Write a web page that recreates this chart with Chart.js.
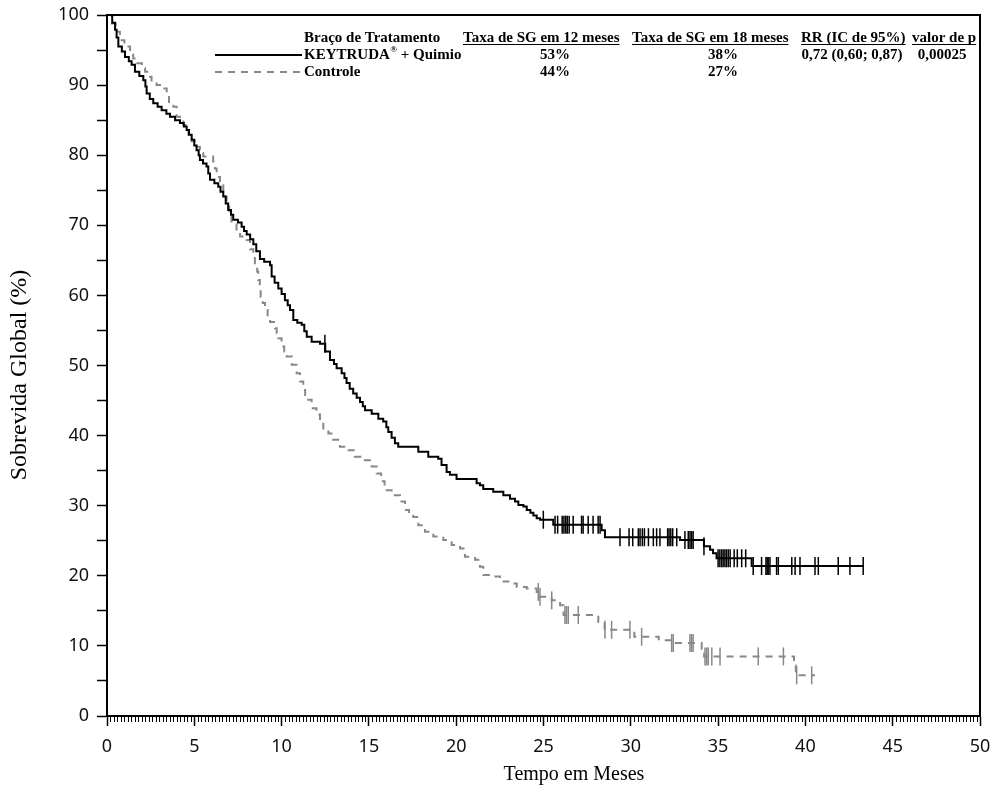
<!DOCTYPE html>
<html>
<head>
<meta charset="utf-8">
<script src="https://cdn.jsdelivr.net/npm/chart.js"></script>
<style>
html,body{margin:0;padding:0;background:#fff;}
#wrap{width:997px;height:789px;position:relative;}
</style>
</head>
<body>
<div id="wrap"><canvas id="c" width="997" height="789"></canvas></div>
<script>
// ---------------- DATA ----------------
const xTickValues = [0, 5, 10, 15, 20, 25, 30, 35, 40, 45, 50];
const yTickLabels = [0, 10, 20, 30, 40, 50, 60, 70, 80, 90, 100];

const keytrudaTime = [0, 0.3, 0.46, 0.55, 0.65, 0.85, 1.03, 1.25, 1.41, 1.6, 1.85, 2.08, 2.2, 2.27, 2.45, 2.65, 2.9, 3.13, 3.4, 3.61, 3.9, 4.18, 4.4, 4.56, 4.7, 4.85, 5.0, 5.13, 5.25, 5.32, 5.5, 5.7, 5.8, 5.9, 6.15, 6.37, 6.5, 6.66, 6.8, 6.94, 7.1, 7.23, 7.5, 7.71, 7.85, 8.0, 8.2, 8.38, 8.55, 8.76, 9.0, 9.34, 9.43, 9.6, 9.81, 10.0, 10.19, 10.35, 10.48, 10.67, 10.9, 11.15, 11.3, 11.44, 11.72, 12.2, 12.5, 12.77, 13.0, 13.15, 13.44, 13.6, 13.72, 13.9, 14.1, 14.3, 14.49, 14.65, 14.78, 15.16, 15.54, 15.82, 16.0, 16.11, 16.3, 16.49, 16.68, 17.83, 18.4, 18.97, 19.16, 19.45, 19.64, 20.02, 21.17, 21.36, 21.55, 22.12, 22.7, 23.08, 23.37, 23.56, 23.85, 24.04, 24.25, 24.42, 24.61, 24.8, 25.56, 28.33, 28.52, 32.82, 34.19, 34.54, 34.71, 34.91, 36.92, 43.31];
const keytrudaSurv = [100, 98.9, 97.9, 96.8, 95.5, 94.8, 94.0, 93.4, 92.9, 91.9, 91.3, 90.7, 89.8, 88.8, 88.0, 87.4, 86.9, 86.4, 85.9, 85.5, 85.0, 84.6, 84.1, 83.6, 82.9, 82.2, 81.4, 80.7, 80.0, 79.3, 78.8, 78.4, 77.4, 76.5, 76.0, 75.5, 74.8, 74.1, 73.1, 72.2, 71.5, 70.8, 70.4, 69.8, 69.2, 68.7, 68.0, 67.3, 66.3, 65.2, 64.8, 64.3, 62.7, 61.8, 61.0, 60.2, 59.3, 58.6, 57.9, 56.5, 56.1, 55.8, 54.9, 54.1, 53.4, 53.1, 52.0, 50.8, 50.2, 49.6, 48.9, 48.2, 47.5, 46.7, 46.0, 45.4, 44.8, 44.2, 43.6, 43.1, 42.4, 42.0, 41.2, 40.5, 39.7, 38.9, 38.4, 37.7, 37.0, 36.7, 35.8, 34.8, 34.4, 33.8, 33.2, 32.9, 32.4, 32.0, 31.5, 31.0, 30.6, 30.1, 29.9, 29.4, 29.0, 28.6, 28.2, 28.0, 27.3, 26.5, 25.5, 25.1, 24.2, 23.7, 23.2, 22.5, 21.4, 21.4];
const keytrudaCensorTime = [12.48, 24.99, 25.66, 25.81, 26.07, 26.17, 26.27, 26.36, 26.47, 26.7, 27.18, 27.27, 27.56, 27.84, 28.13, 28.24, 29.38, 29.9, 30.11, 30.43, 30.53, 30.66, 30.78, 31.01, 31.29, 31.48, 31.67, 32.11, 32.19, 32.29, 32.4, 32.63, 33.1, 33.29, 33.39, 33.48, 33.57, 34.19, 35.0, 35.1, 35.2, 35.29, 35.39, 35.48, 35.58, 35.69, 35.92, 36.1, 36.35, 36.58, 37.01, 37.49, 37.74, 37.81, 37.87, 37.97, 38.35, 38.45, 39.22, 39.41, 39.69, 40.55, 40.74, 41.88, 42.55, 43.31];

const controlTime = [0, 0.27, 0.5, 0.74, 1.0, 1.32, 1.5, 1.7, 2.0, 2.18, 2.46, 2.55, 2.84, 3.22, 3.42, 3.55, 3.8, 3.99, 4.18, 4.37, 4.5, 4.66, 4.85, 5.04, 5.32, 5.51, 6.08, 6.18, 6.28, 6.47, 6.66, 6.85, 7.0, 7.13, 7.42, 7.62, 8.0, 8.19, 8.38, 8.47, 8.6, 8.66, 8.75, 8.8, 8.92, 9.05, 9.2, 9.34, 9.62, 9.72, 9.81, 10.0, 10.15, 10.29, 10.58, 10.86, 11.05, 11.24, 11.35, 11.44, 11.72, 12.0, 12.1, 12.2, 12.39, 12.68, 12.96, 13.34, 13.72, 14.2, 14.68, 15.16, 15.44, 15.7, 15.9, 16.3, 16.78, 17.07, 17.3, 17.54, 17.83, 18.21, 18.69, 19.26, 19.74, 20.22, 20.5, 21.08, 21.36, 21.55, 22.12, 22.51, 22.99, 23.47, 24.04, 24.61, 24.8, 25.47, 25.95, 26.15, 28.14, 28.5, 30.2, 31.6, 32.3, 34.06, 34.2, 39.35, 39.45, 40.55];
const controlSurv = [100, 98.8, 97.6, 96.4, 95.5, 94.5, 93.8, 93.1, 92.4, 91.9, 91.2, 90.5, 90.0, 89.5, 88.3, 87.6, 86.9, 85.5, 84.8, 84.3, 83.6, 82.9, 82.0, 81.2, 80.3, 79.8, 79.1, 78.1, 76.9, 75.7, 74.1, 72.7, 71.5, 70.3, 69.1, 68.4, 67.9, 66.6, 65.5, 64.6, 63.4, 62.2, 61.0, 59.8, 58.9, 57.9, 57.0, 56.2, 55.3, 54.6, 53.9, 52.7, 52.0, 51.3, 50.1, 48.9, 47.7, 46.5, 45.8, 45.1, 43.9, 43.7, 43.0, 42.2, 41.0, 40.3, 39.4, 38.4, 37.9, 37.0, 36.5, 35.6, 34.6, 33.5, 32.2, 31.5, 30.6, 29.4, 28.9, 28.4, 27.2, 26.3, 25.6, 25.1, 24.4, 23.9, 22.7, 22.3, 21.3, 20.1, 19.9, 19.2, 18.9, 18.4, 18.2, 17.7, 17.0, 16.5, 15.8, 14.4, 13.4, 12.3, 11.3, 10.8, 10.4, 9.6, 8.5, 7.2, 5.8, 5.8];
const controlCensorTime = [24.7, 24.8, 25.47, 26.23, 26.32, 26.42, 26.99, 28.52, 28.9, 29.95, 30.62, 32.34, 32.43, 33.39, 33.48, 33.57, 34.25, 34.35, 34.44, 34.64, 35.11, 37.3, 38.74, 39.5, 40.36];

const seriesNames = ['KEYTRUDA\u00AE + Quimio', 'Controle'];
const tableHeaders = ['Bra\u00E7o de Tratamento', 'Taxa de SG em 12 meses', 'Taxa de SG em 18 meses', 'RR (IC de 95%)', 'valor de p'];
const rate12 = ['53%', '44%'];
const rate18 = ['38%', '27%'];
const hazardRatio = ['0,72 (0,60; 0,87)', ''];
const pValue = ['0,00025', ''];
const xTitle = 'Tempo em Meses';
const yTitle = 'Sobrevida Global (%)';

// ---------------- HELPERS ----------------
function toPoints(ts, ss) { return ts.map((t, i) => ({x: t, y: ss[i]})); }
function survAt(ts, ss, t) {
  let s = ss[0];
  for (let i = 0; i < ts.length; i++) { if (ts[i] <= t + 1e-9) s = ss[i]; }
  return s;
}
function censorPoints(cts, ts, ss) { return cts.map(t => ({x: t, y: survAt(ts, ss, t)})); }

const BLACK = '#000000';
const GRAY = '#888888';
const SERIF = '"Liberation Serif", "Times New Roman", serif';

// draws text, rendering "®" as a small superscript
function drawWithSup(ctx, text, x, y, size) {
  const parts = text.split('\u00AE');
  let cx = x;
  for (let i = 0; i < parts.length; i++) {
    ctx.font = 'bold ' + size + 'px ' + SERIF;
    ctx.fillText(parts[i], cx, y);
    cx += ctx.measureText(parts[i]).width;
    if (i < parts.length - 1) {
      ctx.font = 'bold ' + Math.round(size * 0.62) + 'px ' + SERIF;
      ctx.fillText('\u00AE', cx + 0.5, y - 5);
      cx += ctx.measureText('\u00AE').width + 0.5;
    }
  }
  ctx.font = 'bold ' + size + 'px ' + SERIF;
}

const decorPlugin = {
  id: 'decor',
  afterDraw(chart) {
    const ctx = chart.ctx;
    const ca = chart.chartArea;
    const xs = chart.scales.x;
    ctx.save();
    // frame top + right
    ctx.strokeStyle = BLACK; ctx.lineWidth = 2;
    ctx.beginPath();
    ctx.moveTo(ca.left, ca.top); ctx.lineTo(ca.right, ca.top); ctx.lineTo(ca.right, ca.bottom);
    ctx.stroke();
    // x minor ticks every 0.2
    ctx.lineWidth = 1;
    ctx.beginPath();
    for (let i = 0; i <= 250; i++) {
      if (i % 25 === 0) continue;
      const px = Math.round(xs.getPixelForValue(i / 5)) + 0.5;
      ctx.moveTo(px, ca.bottom); ctx.lineTo(px, ca.bottom + 6);
    }
    ctx.stroke();

    // axis titles
    ctx.fillStyle = BLACK;
    ctx.textAlign = 'center'; ctx.textBaseline = 'middle';
    ctx.font = '20px ' + SERIF;
    ctx.fillText(xTitle, 574, 775);
    ctx.save();
    ctx.translate(20, 375); ctx.rotate(-Math.PI / 2);
    ctx.font = '24px ' + SERIF;
    ctx.fillText(yTitle, 0, 0);
    ctx.restore();

    // legend table
    ctx.font = 'bold 15px ' + SERIF;
    ctx.textBaseline = 'middle';
    const hy = 38, r1 = 55, r2 = 72;
    ctx.textAlign = 'left';
    ctx.fillText(tableHeaders[0], 304, hy);
    const headX = [463, 632, 801, 912];
    ctx.lineWidth = 1;
    for (let i = 1; i < tableHeaders.length; i++) {
      const x0 = headX[i - 1];
      ctx.fillText(tableHeaders[i], x0, hy);
      const w = ctx.measureText(tableHeaders[i]).width;
      ctx.beginPath(); ctx.moveTo(x0, hy + 6.5); ctx.lineTo(x0 + w, hy + 6.5); ctx.stroke();
    }
    drawWithSup(ctx, seriesNames[0], 304, r1, 15);
    drawWithSup(ctx, seriesNames[1], 304, r2, 15);
    ctx.textAlign = 'center';
    ctx.fillText(rate12[0], 555, r1); ctx.fillText(rate12[1], 555, r2);
    ctx.fillText(rate18[0], 723, r1); ctx.fillText(rate18[1], 723, r2);
    ctx.fillText(hazardRatio[0], 852, r1);
    ctx.fillText(pValue[0], 942, r1);
    // sample lines
    ctx.lineWidth = 2; ctx.strokeStyle = BLACK;
    ctx.beginPath(); ctx.moveTo(215, r1); ctx.lineTo(302, r1); ctx.stroke();
    ctx.strokeStyle = GRAY; ctx.setLineDash([7, 6]);
    ctx.beginPath(); ctx.moveTo(215, r2); ctx.lineTo(302, r2); ctx.stroke();
    ctx.setLineDash([]);
    ctx.restore();
  }
};

const tickFont = {family: '"Noto Sans", "Open Sans", sans-serif', size: 18};

new Chart(document.getElementById('c'), {
  type: 'line',
  data: {
    datasets: [
      {label: seriesNames[0], data: toPoints(keytrudaTime, keytrudaSurv), borderColor: BLACK, borderWidth: 2, stepped: 'before', pointRadius: 0, fill: false},
      {label: seriesNames[1], data: toPoints(controlTime, controlSurv), borderColor: GRAY, borderWidth: 2, borderDash: [7, 6], stepped: 'before', pointRadius: 0, fill: false},
      {label: 'c1', data: censorPoints(keytrudaCensorTime, keytrudaTime, keytrudaSurv), showLine: false, pointStyle: 'line', rotation: 90, pointRadius: 9, borderColor: BLACK, pointBorderWidth: 1.5},
      {label: 'c2', data: censorPoints(controlCensorTime, controlTime, controlSurv), showLine: false, pointStyle: 'line', rotation: 90, pointRadius: 9, borderColor: GRAY, pointBorderWidth: 1.5}
    ]
  },
  options: {
    responsive: false,
    animation: false,
    layout: {padding: {top: 15, right: 17, left: 0, bottom: 0}},
    plugins: {legend: {display: false}, tooltip: {enabled: false}},
    scales: {
      x: {
        type: 'linear', min: 0, max: 50,
        afterBuildTicks(scale) { scale.ticks = xTickValues.map(v => ({value: v})); },
        ticks: {font: tickFont, color: '#111', padding: 10, maxRotation: 0, autoSkip: false},
        grid: {drawOnChartArea: false, tickLength: 10, tickColor: BLACK, tickWidth: 1.5},
        border: {display: true, color: BLACK, width: 2},
        afterFit(scale) { scale.height = 73; scale.paddingLeft = 0; scale.paddingRight = 0; }
      },
      y: {
        type: 'linear', min: 0, max: 100,
        ticks: {stepSize: 5, font: tickFont, color: '#111', padding: 8,
          callback: (v) => (yTickLabels.includes(v) ? String(v) : '')},
        grid: {drawOnChartArea: false, tickLength: 10, tickColor: BLACK, tickWidth: 1.5},
        border: {display: true, color: BLACK, width: 2},
        afterFit(scale) { scale.width = 107; scale.paddingTop = 0; scale.paddingBottom = 0; }
      }
    }
  },
  plugins: [decorPlugin]
});
</script>
</body>
</html>
